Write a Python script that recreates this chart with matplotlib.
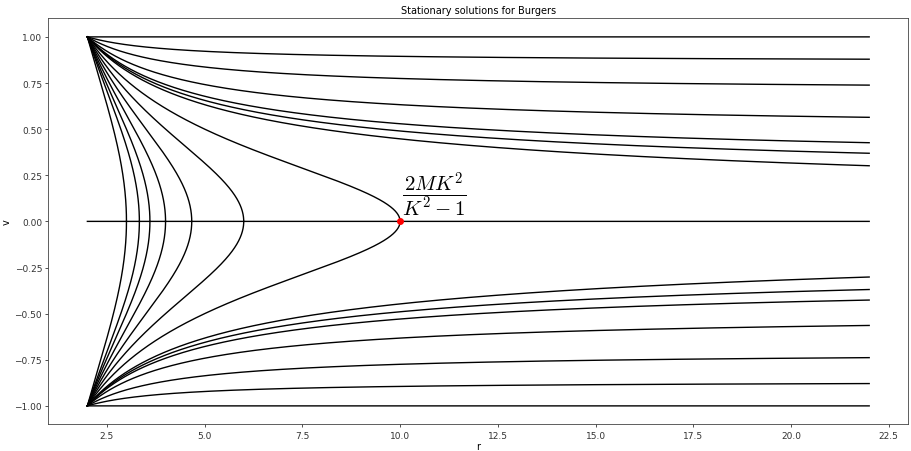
import numpy as np
import matplotlib
matplotlib.use("Agg")
import matplotlib.pyplot as plt

plt.rcParams["mathtext.fontset"] = "cm"

M = 1.0
R_MIN, R_MAX = 2.0, 22.0

# K^2 for curves reaching r = 22 (read from the end values of v at r = 22)
K2_OPEN = [0.0, 0.25, 0.5, 0.75, 0.9, 0.95, 1.0]
# radii where the closed curves hit v = 0
R_TURN = [3.0, 3.33, 3.6, 4.0, 4.67, 6.0, 10.0]
# marked point and its label
DOT_R, DOT_V = 10.0, 0.0
LABEL = r"$\dfrac{2MK^2}{K^2-1}$"

fig = plt.figure(figsize=(9.11, 4.52), dpi=100)
ax = fig.add_axes([0.053, 0.059, 0.944, 0.898])

r = np.linspace(R_MIN, R_MAX, 20001)


def branch(k2):
    v2 = 1.0 - k2 * (1.0 - 2.0 * M / r)
    v = np.full_like(r, np.nan)
    ok = v2 >= 0
    v[ok] = np.sqrt(v2[ok])
    return v


for k2 in K2_OPEN:
    v = branch(k2)
    ax.plot(r, v, color="black", lw=1.0)
    ax.plot(r, -v, color="black", lw=1.0)

for rt in R_TURN:
    k2 = rt / (rt - 2.0 * M)
    v = branch(k2)
    ax.plot(r, v, color="black", lw=1.0)
    ax.plot(r, -v, color="black", lw=1.0)

ax.plot(r, np.zeros_like(r), color="black", lw=1.0)

ax.plot([DOT_R], [DOT_V], "o", color="red", ms=4)
ax.text(DOT_R + 0.05, 0.02, LABEL, fontsize=15, ha="left", va="bottom")

ax.set_xlim(1.0, 23.0)
ax.set_ylim(-1.1, 1.1)
ax.set_xticks(np.arange(2.5, 23, 2.5))
ax.set_yticks(np.arange(-1.0, 1.01, 0.25))
ax.tick_params(labelsize=6.5, length=2.5, width=0.6, pad=2, colors="#333333")
for s in ax.spines.values():
    s.set_linewidth(0.6)
    s.set_color("#444444")

ax.set_title("Stationary solutions for Burgers", fontsize=7, pad=4)
ax.set_xlabel("r", fontsize=7, labelpad=1)
ax.set_ylabel("v", fontsize=7, labelpad=2)

fig.savefig("out.png", dpi=100, facecolor="white")
